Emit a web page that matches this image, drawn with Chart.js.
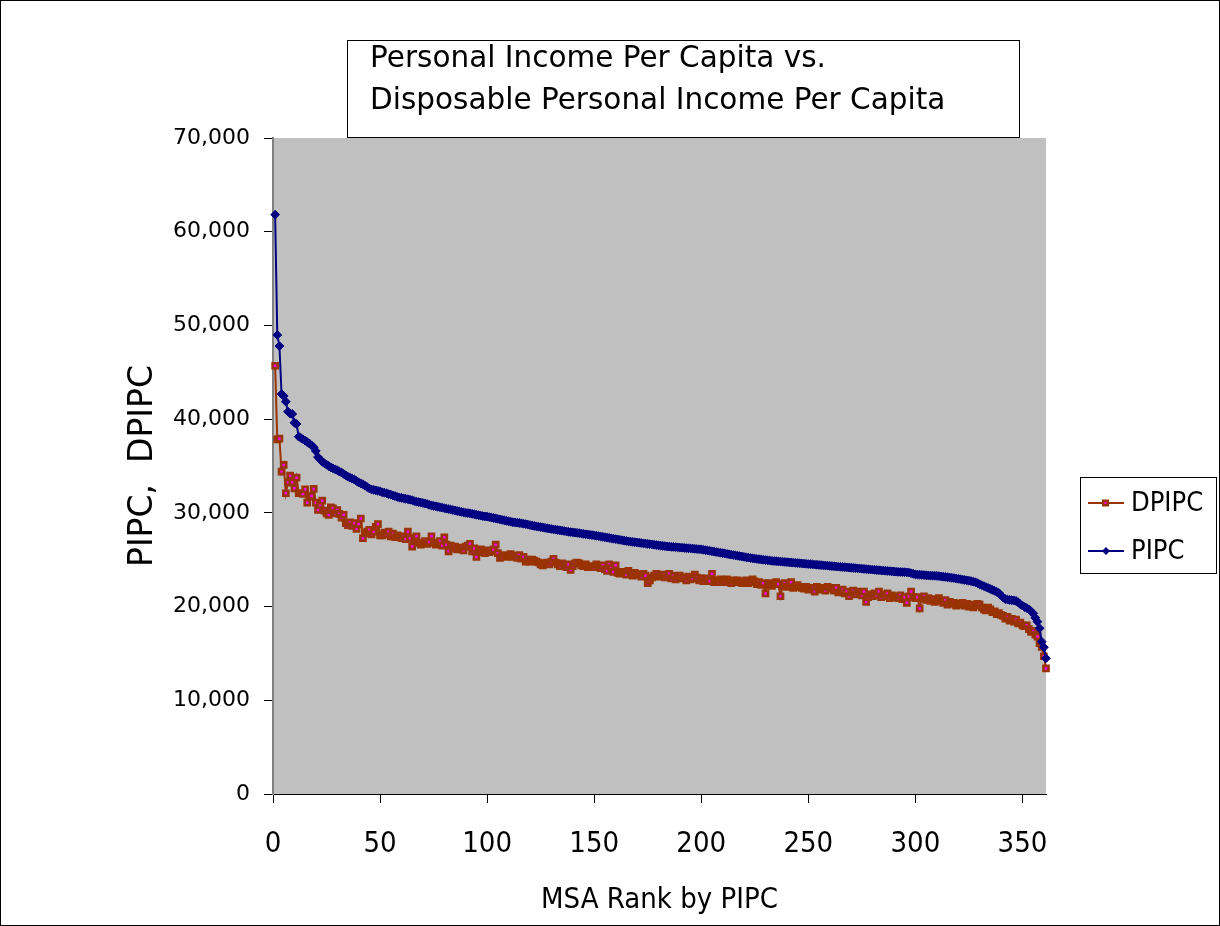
<!DOCTYPE html>
<html>
<head>
<meta charset="utf-8">
<script src="https://cdn.jsdelivr.net/npm/chart.js@4.4.0/dist/chart.umd.min.js"></script>
<style>
  html, body { margin: 0; padding: 0; background: #fff; }
</style>
</head>
<body>
<canvas id="incomeChart" width="1220" height="926"></canvas>
<script>
/* --------------- Data (MSAs ranked by PIPC) --------------------- */
const titleLines = ["Personal Income Per Capita vs.", "Disposable Personal Income Per Capita"];
const seriesNames = ["DPIPC", "PIPC"];
const xTicks = [0, 50, 100, 150, 200, 250, 300, 350];
const yTicks = [0, 10000, 20000, 30000, 40000, 50000, 60000, 70000];

const pipc = [
  61820, 48980, 47800, 42680, 42470, 41860, 40800, 40600, 40550, 39620,
  39480, 38130, 38000, 37850, 37700, 37550, 37400, 37200, 37000, 36600,
  35950, 35700, 35450, 35300, 35150, 35000, 34850, 34750, 34650, 34550,
  34400, 34300, 34150, 34000, 33850, 33750, 33650, 33550, 33400, 33250,
  33150, 33050, 32900, 32750, 32600, 32500, 32450, 32400, 32350, 32300,
  32200, 32150, 32100, 32000, 31950, 31850, 31800, 31700, 31650, 31600,
  31550, 31500, 31450, 31400, 31350, 31250, 31200, 31150, 31100, 31050,
  31000, 30950, 30850, 30800, 30750, 30700, 30650, 30600, 30550, 30500,
  30450, 30400, 30350, 30300, 30250, 30200, 30150, 30100, 30050, 30000,
  29980, 29950, 29900, 29850, 29800, 29750, 29700, 29650, 29620, 29600,
  29550, 29500, 29450, 29400, 29350, 29300, 29250, 29200, 29150, 29100,
  29050, 29000, 28980, 28950, 28920, 28880, 28840, 28800, 28750, 28700,
  28650, 28600, 28560, 28520, 28480, 28440, 28400, 28360, 28320, 28280,
  28240, 28200, 28170, 28140, 28100, 28060, 28020, 27980, 27950, 27920,
  27890, 27860, 27840, 27800, 27760, 27720, 27690, 27660, 27630, 27600,
  27560, 27520, 27480, 27440, 27400, 27360, 27320, 27280, 27240, 27200,
  27160, 27120, 27080, 27040, 27000, 26960, 26930, 26900, 26870, 26840,
  26810, 26780, 26750, 26720, 26690, 26660, 26630, 26600, 26570, 26540,
  26510, 26480, 26450, 26420, 26400, 26380, 26360, 26340, 26320, 26300,
  26280, 26260, 26240, 26220, 26200, 26180, 26160, 26140, 26120, 26100,
  26060, 26020, 25980, 25940, 25900, 25860, 25820, 25780, 25740, 25700,
  25660, 25620, 25580, 25540, 25500, 25460, 25420, 25380, 25340, 25300,
  25260, 25220, 25180, 25140, 25110, 25080, 25050, 25020, 24990, 24960,
  24930, 24900, 24880, 24860, 24840, 24820, 24800, 24780, 24760, 24740,
  24720, 24700, 24680, 24660, 24640, 24620, 24600, 24580, 24560, 24540,
  24520, 24500, 24480, 24460, 24440, 24420, 24400, 24380, 24360, 24340,
  24320, 24300, 24280, 24260, 24240, 24220, 24200, 24180, 24160, 24140,
  24120, 24100, 24080, 24060, 24040, 24020, 24000, 23980, 23960, 23940,
  23920, 23900, 23880, 23860, 23840, 23820, 23800, 23780, 23760, 23740,
  23720, 23700, 23690, 23680, 23670, 23650, 23620, 23560, 23500, 23440,
  23420, 23400, 23380, 23360, 23340, 23320, 23310, 23300, 23290, 23270,
  23250, 23220, 23190, 23160, 23130, 23100, 23070, 23040, 23000, 22960,
  22920, 22880, 22840, 22800, 22760, 22720, 22660, 22600, 22500, 22380,
  22280, 22180, 22080, 21980, 21880, 21780, 21680, 21560, 21450, 21200,
  20950, 20800, 20750, 20700, 20680, 20650, 20600, 20450, 20250, 20100,
  19950, 19850, 19700, 19500, 19280, 18800, 18390, 17680, 16250, 15650, 14480
];

const dpipc = [
  45700, 37850, 37920, 34400, 35110, 32090, 33260, 33970, 33260, 32620,
  33750, 32090, 32090, 32010, 32520, 31090, 31730, 31800, 32550, 31090,
  30310, 30840, 31300, 30230, 29950, 29770, 30600, 30490, 29950, 30300,
  29900, 29500, 29800, 28900, 28700, 29000, 28600, 28900, 28300, 28800,
  29400, 27300, 27800, 28000, 28200, 27700, 28000, 28500, 28800, 27600,
  27600, 27900, 27700, 28000, 27500, 27800, 27400, 27600, 27500, 27300,
  27500, 27200, 28000, 27300, 26400, 27200, 27500, 26800, 26600, 26800,
  27000, 26700, 26900, 27500, 26800, 26600, 26800, 27000, 26500, 27400,
  26600, 25900, 26500, 26200, 26400, 26100, 26200, 26300, 26000, 26400,
  26500, 26700, 25900, 26200, 25300, 25900, 26100, 25800, 25700, 26000,
  25800, 25900, 26100, 26600, 25700, 25200, 25400, 25500, 25300, 25400,
  25600, 25300, 25400, 25200, 25500, 25100, 25300, 24800, 25000, 24800,
  25000, 24900, 24800, 24700, 24500, 24400, 24600, 24700, 24500, 24800,
  25100, 24700, 24500, 24300, 24600, 24400, 24200, 24500, 23900, 24300,
  24600, 24700, 24600, 24400, 24300, 24500, 24200, 24300, 24300, 24200,
  24500, 24300, 24100, 24400, 24000, 23800, 24500, 24100, 23700, 24400,
  23600, 23500, 23700, 23600, 23400, 23800, 23500, 23300, 23600, 23400,
  23400, 23200, 23500, 23300, 22500, 22800, 23100, 23300, 23500, 23200,
  23300, 23400, 23100, 23200, 23500, 23000, 23300, 22900, 23200, 23300,
  23000, 23100, 22800, 23200, 22900, 23000, 23400, 23100, 22800, 23000,
  22700, 23000, 22900, 22700, 23500, 22600, 22800, 22600, 22900, 22700,
  22600, 22900, 22700, 22500, 22800, 22600, 22800, 22700, 22500, 22600,
  22800, 22500, 22600, 22900, 22700, 22400, 22600, 22300, 22500, 21400,
  22300, 22500, 22200, 22400, 22600, 22400, 21100, 22200, 22500, 22100,
  22300, 22600, 22000, 22200, 22300, 22100, 22000, 21900, 22100, 21800,
  22000, 21900, 21600, 22100, 21800, 22000, 21900, 21700, 22100, 22000,
  21900, 21700, 22000, 21500, 21600, 21800, 21400, 21600, 21100, 21500,
  21700, 21300, 21600, 21400, 21200, 21600, 20500, 21000, 21300, 21100,
  21400, 21200, 21600, 21000, 21300, 21100, 21400, 20900, 21200, 21000,
  21100, 20900, 21200, 20800, 21000, 20400, 21100, 21600, 21000, 20900,
  21000, 19800, 20900, 21100, 20700, 20900, 20600, 20800, 20500, 20700,
  20900, 20600, 20400, 20700, 20200, 20500, 20300, 20400, 20100, 20300,
  20200, 20400, 20100, 20300, 20000, 20200, 19900, 20100, 20300, 20200,
  19900, 19700, 19600, 19900, 19700, 19400, 19500, 19200, 19300, 19100,
  19000, 18700, 18900, 18500, 18700, 18400, 18600, 18200, 18300, 18000,
  17900, 18000, 17600, 17300, 17400, 17000, 16800, 16100, 15700, 14700, 13400
];

// MSA rank 1..N
const ranks = pipc.map((_, i) => i + 1);

/* --------------- Fonts / Colors --------------------- */
const narrow = "'Liberation Sans Narrow', 'DejaVu Sans Condensed', sans-serif";
const wide = "'DejaVu Sans', Verdana, sans-serif";
const blue = "#000080";
const brown = "#993300";
const magenta = "#FF00FF";

/* --------------- Frame: plot bg, title box, legend, border --------------------- */
const frame = {
  id: "frame",
  beforeDraw(chart) {
    const { ctx, chartArea: a } = chart;
    ctx.save();
    ctx.fillStyle = "#C0C0C0";
    ctx.fillRect(a.left, a.top, a.right - a.left, a.bottom - a.top);
    ctx.restore();
  },
  afterDraw(chart) {
    const ctx = chart.ctx;
    ctx.save();
    // title box
    ctx.fillStyle = "#fff";
    ctx.fillRect(347, 40, 673, 98);
    ctx.strokeStyle = "#000";
    ctx.lineWidth = 1;
    ctx.strokeRect(347.5, 40.5, 672, 97);
    ctx.fillStyle = "#000";
    ctx.font = "29.5px " + wide;
    ctx.textBaseline = "middle";
    ctx.fillText(titleLines[0], 370, 59);
    ctx.fillText(titleLines[1], 370, 101);

    // legend
    ctx.strokeRect(1080.5, 477.5, 136, 96);
    ctx.font = "27px " + narrow;
    const rows = [
      { name: seriesNames[0], y: 503, color: brown },
      { name: seriesNames[1], y: 551, color: blue }
    ];
    rows.forEach((r, i) => {
      ctx.strokeStyle = r.color;
      ctx.lineWidth = 2;
      ctx.beginPath();
      ctx.moveTo(1088, r.y);
      ctx.lineTo(1124, r.y);
      ctx.stroke();
      if (i === 0) {
        ctx.fillStyle = brown;
        ctx.fillRect(1102, r.y - 3.5, 7, 7);
        ctx.fillStyle = magenta;
        ctx.fillRect(1104.5, r.y - 1, 2, 2);
      } else {
        ctx.fillStyle = blue;
        ctx.beginPath();
        ctx.moveTo(1106, r.y - 4);
        ctx.lineTo(1110, r.y);
        ctx.lineTo(1106, r.y + 4);
        ctx.lineTo(1102, r.y);
        ctx.closePath();
        ctx.fill();
      }
      ctx.fillStyle = "#000";
      ctx.fillText(r.name, 1131, r.y + 1);
    });

    // chart area border
    ctx.strokeStyle = "#000";
    ctx.lineWidth = 1;
    ctx.strokeRect(0.5, 0.5, 1219, 925);
    ctx.restore();
  }
};

/* --------------- Chart --------------------- */
new Chart(document.getElementById("incomeChart"), {
  type: "line",
  data: {
    labels: ranks,
    datasets: [
      {
        label: seriesNames[1],
        data: pipc,
        borderColor: blue,
        borderWidth: 2,
        pointStyle: "rectRot",
        pointRadius: 4.4,
        pointBackgroundColor: blue,
        pointBorderColor: blue,
        pointBorderWidth: 1,
        clip: false
      },
      {
        label: seriesNames[0],
        data: dpipc,
        borderColor: brown,
        borderWidth: 2,
        pointStyle: "rect",
        pointRadius: 3.6,
        pointBackgroundColor: magenta,
        pointBorderColor: brown,
        pointBorderWidth: 2.6,
        clip: false
      }
    ]
  },
  options: {
    responsive: false,
    animation: false,
    devicePixelRatio: 1,
    locale: "en-US",
    layout: { padding: { left: 0, top: 138, right: 174, bottom: 0 } },
    plugins: {
      legend: { display: false },
      tooltip: { enabled: false },
      title: { display: false }
    },
    scales: {
      x: {
        type: "linear",
        min: 0,
        max: 361,
        afterFit: (s) => { s.height = 132; },
        afterBuildTicks: (s) => { s.ticks = xTicks.map((v) => ({ value: v })); },
        ticks: {
          color: "#000",
          font: { family: narrow, size: 29 },
          padding: 24,
          maxRotation: 0,
          autoSkip: false
        },
        grid: { drawOnChartArea: false, drawTicks: true, tickLength: 9, color: "#000" },
        border: { color: "#000", width: 1 },
        title: {
          display: true,
          text: "MSA Rank by PIPC",
          color: "#000",
          font: { family: narrow, size: 29 },
          padding: { top: 0, bottom: 8 }
        }
      },
      y: {
        min: 0,
        max: 70000,
        afterFit: (s) => { s.width = 273; },
        afterBuildTicks: (s) => { s.ticks = yTicks.map((v) => ({ value: v })); },
        ticks: {
          color: "#000",
          font: { family: wide, size: 22 },
          padding: 14
        },
        grid: { drawOnChartArea: false, drawTicks: true, tickLength: 9, color: "#000" },
        border: { color: "#808080", width: 2 },
        title: {
          display: true,
          text: "PIPC,  DPIPC",
          color: "#000",
          font: { family: wide, size: 33 },
          padding: { top: 124, bottom: 0 }
        }
      }
    }
  },
  plugins: [frame]
});
</script>
</body>
</html>
